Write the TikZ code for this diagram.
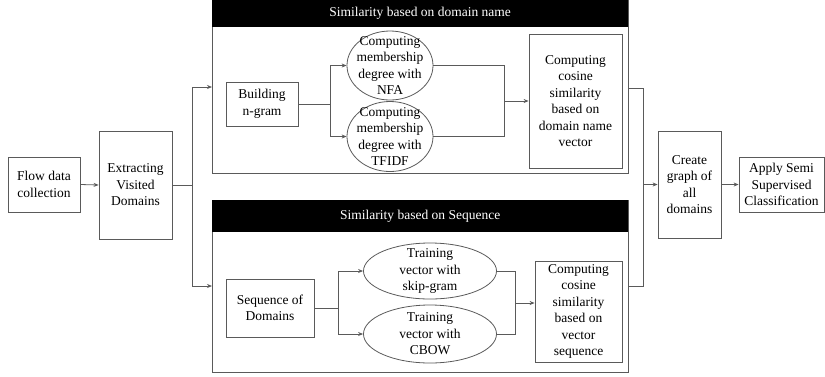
\documentclass[tikz,border=0pt]{standalone}
\usepackage{fontspec}
\setmainfont{Liberation Serif}
\usetikzlibrary{shapes.geometric,arrows.meta}
\definecolor{ln}{RGB}{90,90,90}
\tikzset{
  box/.style={draw=ln, line width=0.8pt, fill=white, align=center, inner sep=0pt, font=\fontsize{13.5}{16.5}\selectfont},
  ell/.style={ellipse, draw=ln, line width=0.8pt, inner sep=0pt},
  txt/.style={align=center, inner sep=0pt, font=\fontsize{13.5}{16.5}\selectfont},
  panel/.style={draw=ln, line width=0.8pt, inner sep=0pt, anchor=north west},
  head/.style={fill=black, text=white, inner sep=0pt, anchor=north west, font=\fontsize{13.5}{16.5}\selectfont},
  conn/.style={draw=ln, line width=0.8pt},
  arr/.style={conn, -{Stealth[length=5pt,width=4pt]}}
}
\begin{document}
\begin{tikzpicture}[x=1pt,y=-1pt]
\useasboundingbox (0,0) rectangle (825,376);
% left boxes
\node[box, minimum width=72, minimum height=55] (flow) at (44,184.5) {Flow data\\collection};
\node[box, minimum width=73, minimum height=108] (extract) at (135.5,185) {Extracting\\Visited\\Domains};
% panels
\node[panel, minimum width=416, minimum height=173] (top) at (212,0) {};
\node[head, minimum width=416, minimum height=27] (tophead) at (212,0) {Similarity based on domain name};
\node[panel, minimum width=416, minimum height=172] (bot) at (212,200) {};
\node[head, minimum width=416, minimum height=32] (bothead) at (212,200) {Similarity based on Sequence};
% top panel content
\node[box, minimum width=72, minimum height=44] (ngram) at (262,104) {Building\\n-gram};
\node[ell, minimum width=86, minimum height=69] (nfa) at (390,65.5) {};
\node[txt] at (nfa) {Computing\\membership\\degree with\\NFA};
\node[ell, minimum width=86, minimum height=70] (tfidf) at (390,136.5) {};
\node[txt] at (tfidf) {Computing\\membership\\degree with\\TFIDF};
\node[box, minimum width=93, minimum height=134] (cos1) at (575.5,101) {Computing\\cosine\\similarity\\based on\\domain name\\vector};
% bottom panel content
\node[box, minimum width=88, minimum height=58] (seq) at (270,308) {Sequence of\\Domains};
\node[ell, minimum width=133, minimum height=56] (skip) at (430,271) {};
\node[txt] at (skip) {Training\\vector with\\skip-gram};
\node[ell, minimum width=133, minimum height=58] (cbow) at (430,334) {};
\node[txt] at (cbow) {Training\\vector with\\CBOW};
\node[box, minimum width=87, minimum height=101] (cos2) at (578.5,311.5) {Computing\\cosine\\similarity\\based on\\vector\\sequence};
% right boxes
\node[box, minimum width=63, minimum height=107] (graph) at (689.5,184.5) {Create\\graph of\\all\\domains};
\node[box, minimum width=85, minimum height=55] (apply) at (781.5,184.5) {Apply Semi\\Supervised\\Classification};
% junction coordinates
\coordinate (ja) at (192,87);
\coordinate (jb) at (192,286);
\coordinate (jc) at (330,104);
\coordinate (jd) at (504,101);
\coordinate (je) at (338,308);
\coordinate (jf) at (515,303);
\coordinate (jg) at (643,88);
\coordinate (jh) at (643,286);
% connectors
\draw[arr] (flow.east) -- (extract.west);
\draw[conn] (extract.east) -- (extract.east -| ja);
\draw[conn] (ja) -- (jb);
\draw[arr] (ja) -- (ja -| top.west);
\draw[arr] (jb) -- (jb -| bot.west);
% top panel
\draw[conn] (ngram.east) -- (jc);
\draw[conn] (jc |- nfa.west) -- (jc |- tfidf.west);
\draw[arr] (jc |- nfa.west) -- (nfa.west);
\draw[arr] (jc |- tfidf.west) -- (tfidf.west);
\draw[conn] (nfa.east) -- (nfa.east -| jd) -- (tfidf.east -| jd) -- (tfidf.east);
\draw[arr] (jd) -- (cos1.west |- jd);
% bottom panel
\draw[conn] (seq.east) -- (je);
\draw[conn] (je |- skip.west) -- (je |- cbow.west);
\draw[arr] (je |- skip.west) -- (skip.west);
\draw[arr] (je |- cbow.west) -- (cbow.west);
\draw[conn] (skip.east) -- (skip.east -| jf) -- (cbow.east -| jf) -- (cbow.east);
\draw[arr] (jf) -- (cos2.west |- jf);
% right
\draw[conn] (top.east |- jg) -- (jg) -- (jh) -- (bot.east |- jh);
\draw[arr] (graph.west -| jg) -- (graph.west);
\draw[arr] (graph.east) -- (apply.west);
\end{tikzpicture}
\end{document}
